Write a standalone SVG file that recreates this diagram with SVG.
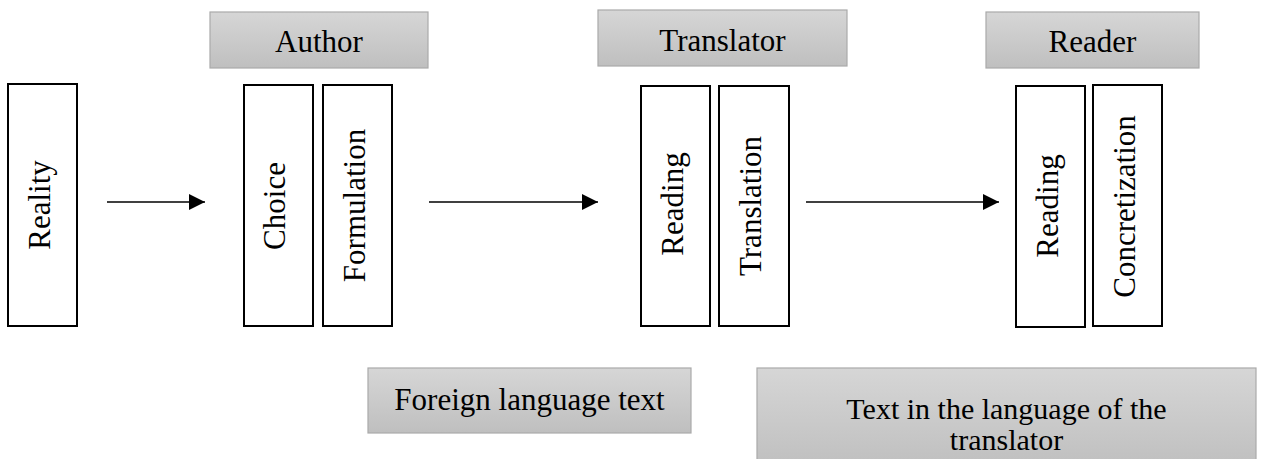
<svg xmlns="http://www.w3.org/2000/svg" width="1273" height="459" viewBox="0 0 1273 459">
<style>
  text { font-family: "Liberation Serif", "Times New Roman", serif; font-size: 31px; fill: #000; }
  .c { text-anchor: middle; }
  .two { font-size: 30px; }
  .box { fill: #fff; stroke: #000; stroke-width: 2; }
  .hdr { fill: url(#g); stroke: #aaaaaa; stroke-width: 1.2; }
  .conn { stroke: #000; stroke-width: 1.5; fill: none; marker-end: url(#ah); }
</style>
<defs>
  <linearGradient id="g" x1="0" y1="0" x2="0" y2="1">
    <stop offset="0" stop-color="#d6d6d6"/>
    <stop offset="1" stop-color="#bfbfbf"/>
  </linearGradient>
  <marker id="ah" markerWidth="16" markerHeight="16" viewBox="0 0 16 16" refX="16" refY="8" orient="auto" markerUnits="userSpaceOnUse">
    <path d="M0,0 L16,8 L0,16 Z" fill="#000"/>
  </marker>
</defs>

<g id="connectors">
  <line class="conn" x1="107" y1="202" x2="205" y2="202"/>
  <line class="conn" x1="429" y1="202" x2="598" y2="202"/>
  <line class="conn" x1="806" y1="202" x2="999" y2="202"/>
</g>

<g id="reality">
  <rect class="box" x="8" y="84" width="69" height="242"/>
  <text class="c" transform="translate(50,205) rotate(-90)">Reality</text>
</g>

<g id="author">
  <rect class="hdr" x="210" y="12" width="218" height="56"/>
  <text class="c" x="319" y="52">Author</text>
</g>
<g id="choice">
  <rect class="box" x="244" y="85" width="69" height="241"/>
  <text class="c" transform="translate(285,206) rotate(-90)">Choice</text>
</g>
<g id="formulation">
  <rect class="box" x="323" y="85" width="69" height="241"/>
  <text class="c" transform="translate(364.5,205.5) rotate(-90)">Formulation</text>
</g>

<g id="translator">
  <rect class="hdr" x="598" y="10" width="249" height="56"/>
  <text class="c" x="722.5" y="51">Translator</text>
</g>
<g id="reading1">
  <rect class="box" x="641" y="86" width="69" height="240"/>
  <text class="c" transform="translate(682.5,204) rotate(-90)">Reading</text>
</g>
<g id="translation">
  <rect class="box" x="719" y="86" width="70" height="240"/>
  <text class="c" transform="translate(761,206) rotate(-90)">Translation</text>
</g>

<g id="reader">
  <rect class="hdr" x="986" y="12" width="213" height="56"/>
  <text class="c" x="1092.5" y="52">Reader</text>
</g>
<g id="reading2">
  <rect class="box" x="1016" y="86" width="69" height="241"/>
  <text class="c" transform="translate(1057.5,206) rotate(-90)">Reading</text>
</g>
<g id="concretization">
  <rect class="box" x="1093" y="85" width="69" height="241"/>
  <text class="c" transform="translate(1134.5,206.5) rotate(-90)">Concretization</text>
</g>

<g id="foreign">
  <rect class="hdr" x="368" y="368" width="323" height="65"/>
  <text class="c" x="529.5" y="410">Foreign language text</text>
</g>
<g id="target">
  <rect class="hdr" x="757" y="368" width="499" height="100"/>
  <text class="c two" x="1006.5" y="419">Text in the language of the</text>
  <text class="c two" x="1006.5" y="450">translator</text>
</g>
</svg>
